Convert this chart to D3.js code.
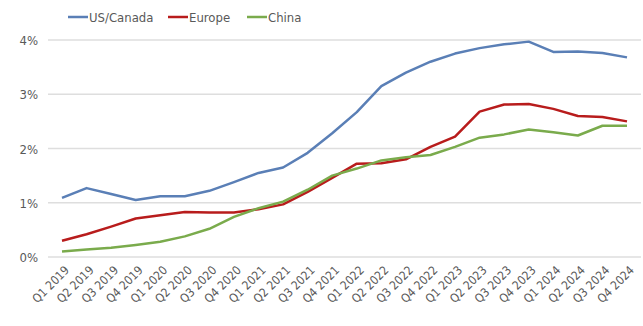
<!DOCTYPE html>
<html>
<head>
<meta charset="utf-8">
<script src="https://cdn.jsdelivr.net/npm/d3@7"></script>
<style>
  body { margin: 0; background: #fff; }
  text { font-family: "Liberation Sans Narrow", "DejaVu Sans Condensed", "Liberation Sans", sans-serif; fill: #595959; }
</style>
</head>
<body>
<script>
//quarter labels
var quarters = [
  "Q1 2019","Q2 2019","Q3 2019","Q4 2019",
  "Q1 2020","Q2 2020","Q3 2020","Q4 2020",
  "Q1 2021","Q2 2021","Q3 2021","Q4 2021",
  "Q1 2022","Q2 2022","Q3 2022","Q4 2022",
  "Q1 2023","Q2 2023","Q3 2023","Q4 2023",
  "Q1 2024","Q2 2024","Q3 2024","Q4 2024"
];

//series values in percent
var usCanada = [1.09, 1.27, 1.16, 1.05, 1.12, 1.12, 1.22, 1.38, 1.55, 1.65, 1.92, 2.28,
                2.67, 3.15, 3.40, 3.60, 3.75, 3.85, 3.92, 3.97, 3.78, 3.79, 3.76, 3.68];
var europe = [0.30, 0.42, 0.56, 0.71, 0.77, 0.83, 0.82, 0.82, 0.88, 0.97, 1.20, 1.46,
              1.72, 1.73, 1.80, 2.03, 2.22, 2.68, 2.81, 2.82, 2.73, 2.60, 2.58, 2.50];
var china = [0.10, 0.14, 0.17, 0.22, 0.28, 0.38, 0.52, 0.74, 0.90, 1.02, 1.24, 1.50,
             1.63, 1.78, 1.84, 1.88, 2.03, 2.20, 2.26, 2.35, 2.30, 2.24, 2.42, 2.42];

var yTicks = [0, 1, 2, 3, 4];

var series = [
  { name: "US/Canada", values: usCanada, color: "#5a7fb6" },
  { name: "Europe", values: europe, color: "#b81c1c" },
  { name: "China", values: china, color: "#7aab4c" }
];

var w = 643, h = 326;

var svg = d3.select("body")
  .append("svg")
  .attr("width", w)
  .attr("height", h);

//x positions of the quarters
var x = d3.scalePoint()
  .domain(quarters)
  .range([62, 627]);

var y = d3.scaleLinear()
  .domain([0, 4])
  .range([257, 40]);

//gridlines
svg.selectAll(".grid")
  .data(yTicks)
  .enter()
  .append("line")
  .attr("class", "grid")
  .attr("x1", 48)
  .attr("x2", 641)
  .attr("y1", function(d){ return y(d); })
  .attr("y2", function(d){ return y(d); })
  .style("stroke", "#dedede")
  .style("stroke-width", 1.3);

//y labels
svg.selectAll(".ylab")
  .data(yTicks)
  .enter()
  .append("text")
  .attr("class", "ylab")
  .attr("x", 38)
  .attr("y", function(d){ return y(d) + 5; })
  .attr("text-anchor", "end")
  .style("font-size", "13px")
  .text(function(d){ return d + "%"; });

//x labels, rotated
svg.selectAll(".xlab")
  .data(quarters)
  .enter()
  .append("text")
  .attr("class", "xlab")
  .attr("text-anchor", "end")
  .attr("transform", function(d){
    return "translate(" + (x(d) + 5) + ",268) rotate(-45)";
  })
  .attr("dy", "0.35em")
  .style("font-size", "12px")
  .text(function(d){ return d; });

//lines
var line = d3.line()
  .x(function(d, i){ return x(quarters[i]); })
  .y(function(d){ return y(d); });

svg.selectAll(".series")
  .data(series)
  .enter()
  .append("path")
  .attr("class", "series")
  .attr("d", function(d){ return line(d.values); })
  .style("fill", "none")
  .style("stroke", function(d){ return d.color; })
  .style("stroke-width", 2.5)
  .style("stroke-linejoin", "round");

//legend
var legendX = [68, 168, 247];
var legend = svg.selectAll(".legend")
  .data(series)
  .enter()
  .append("g")
  .attr("class", "legend")
  .attr("transform", function(d, i){ return "translate(" + legendX[i] + ",17)"; });

legend.append("line")
  .attr("x1", 0)
  .attr("x2", 20)
  .style("stroke", function(d){ return d.color; })
  .style("stroke-width", 2.5);

legend.append("text")
  .attr("x", 21)
  .attr("y", 5)
  .style("font-size", "13px")
  .text(function(d){ return d.name; });
</script>
</body>
</html>
